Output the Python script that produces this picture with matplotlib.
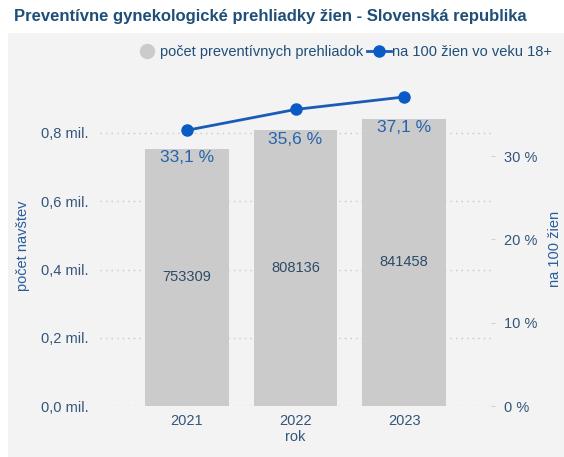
import matplotlib
matplotlib.use("Agg")
import matplotlib.pyplot as plt
from matplotlib.lines import Line2D
from matplotlib.patches import Rectangle
from matplotlib.ticker import FuncFormatter

years = ["2021", "2022", "2023"]
visits = [753309, 808136, 841458]
per100 = [33.1, 35.6, 37.1]
left_ticks = [0, 200000, 400000, 600000, 800000]
right_ticks = [0, 10, 20, 30]

plt.rcParams['font.family'] = ['Liberation Sans', 'DejaVu Sans']

W, H = 564, 457
fig = plt.figure(figsize=(W / 100, H / 100), dpi=100)
fig.patch.set_facecolor('white')
fig.add_artist(Rectangle((8 / W, 0), 1, 1 - 33 / H, transform=fig.transFigure,
                         facecolor='#f3f3f3', edgecolor='none', zorder=-10))

ax = fig.add_axes([100 / W, 1 - 406 / H, (491 - 100) / W, (406 - 85) / H])
ax.set_facecolor('none')
ax2 = ax.twinx()

x = list(range(len(years)))
bar_color = '#cbcbcb'
line_color = '#1a5cb5'
tick_color = '#33557a'
label_color = '#2a5d9c'

ax.bar(x, visits, width=0.77, color=bar_color, zorder=2)
ax.set_xlim(-0.8, 2.8)
ax.set_ylim(0, 321 / 341.25 * 1e6)
ax.set_yticks(left_ticks)
ax.yaxis.set_major_formatter(FuncFormatter(lambda v, p: f"{v/1e6:.1f} mil.".replace('.', ',', 1)))
ax.grid(axis='y', color='#c8c8c8', linestyle=(0, (1, 3)), linewidth=1, zorder=0)
ax.set_axisbelow(True)
ax.set_xticks(x)
ax.set_xticklabels(years)
ax.tick_params(axis='both', length=0, labelsize=10.5, labelcolor=tick_color, pad=8)
ax.tick_params(axis='x', pad=6)
ax.set_xlabel("rok", color=tick_color, fontsize=10.5, labelpad=1)
ax.set_ylabel("počet navštev", color=label_color, fontsize=10.5)
ax.yaxis.set_label_coords(-70 / 391, 0.5)

for xi, v in zip(x, visits):
    ax.text(xi, v / 2, f"{v}", ha='center', va='center', fontsize=10.5, color='#2f4a66', zorder=5)

ax2.plot(x, per100, color=line_color, linewidth=2, marker='o', markersize=8,
         markerfacecolor='#0a5cc4', markeredgecolor='#0a5cc4', zorder=4)
ax2.set_ylim(0, 321 / 8.33)
ax2.set_yticks(right_ticks)
ax2.yaxis.set_major_formatter(FuncFormatter(lambda v, p: f"{int(v)} %"))
ax2.tick_params(axis='y', length=3, color='#d0d0d0', labelsize=10.5, labelcolor=tick_color, pad=6)
ax2.set_ylabel("na 100 žien", color=label_color, fontsize=10.5)
ax2.yaxis.set_label_coords(1 + 57 / 391, 0.49)

for a in (ax, ax2):
    for s in a.spines.values():
        s.set_visible(False)

for xi, v, p in zip(x, visits, per100):
    ax.annotate(f"{p:.1f} %".replace('.', ','), xy=(xi, v), xytext=(0, -1),
                textcoords='offset points', ha='center', va='top',
                fontsize=12.5, color='#2563ad', zorder=6)

fig.text(14 / W, 1 - 17 / H, "Preventívne gynekologické prehliadky žien - Slovenská republika",
         fontsize=12, fontweight='bold', color='#1f4e79', va='center', ha='left')

handles = [
    Line2D([], [], linestyle='none', marker='o', markersize=10, color=bar_color),
    Line2D([], [], color=line_color, linewidth=2, marker='o', markersize=8,
           markerfacecolor='#0a5cc4', markeredgecolor='#0a5cc4'),
]
fig.legend(handles, ["počet preventívnych prehliadok", "na 100 žien vo veku 18+"],
           loc='center right', bbox_to_anchor=(558 / W, 1 - 52 / H), ncol=2,
           frameon=False, fontsize=10.5, labelcolor='#1f4e79',
           handlelength=1.6, handletextpad=0.1, columnspacing=0.3, borderaxespad=0)

fig.savefig("out.png", dpi=100)
